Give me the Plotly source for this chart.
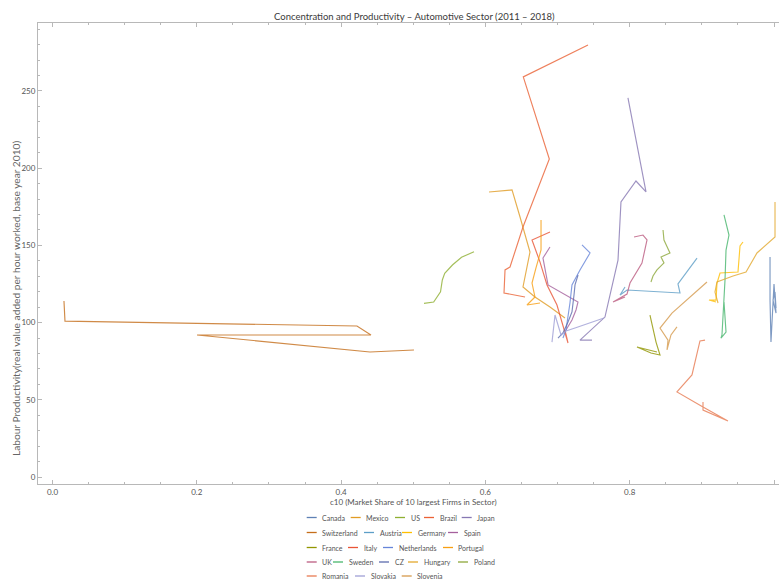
import plotly.graph_objects as go

# ---- data: c10 concentration ratio (x) and labour productivity (y), 2011-2018 ----
countries = ["Canada", "Mexico", "US", "Brazil", "Japan",
             "Switzerland", "Austria", "Germany", "Spain",
             "France", "Italy", "Netherlands", "Portugal",
             "UK", "Sweden", "CZ", "Hungary", "Poland",
             "Romania", "Slovakia", "Slovenia"]

c10_canada = [0.9945, 0.9945, 0.9958, 1.0000, 1.0028, 0.9986, 1.0014, 1.0028]
lp_canada = [142.5, 114.6, 87.4, 125.0, 106.2, 114.6, 119.8, 109.5]

c10_mexico = [0.6050, 0.6369, 0.6480, 0.6618, 0.6521, 0.6687, 0.6895, 0.7103]
lp_mexico = [184.6, 185.9, 168.4, 145.7, 123.1, 116.6, 110.1, 103.0]

c10_us = [0.5149, 0.5283, 0.5378, 0.5403, 0.5436, 0.5543, 0.5669, 0.5842]
lp_us = [112.5, 113.3, 120.0, 127.6, 131.9, 137.3, 142.3, 145.9]

c10_brazil = [0.7422, 0.6525, 0.6886, 0.6521, 0.6341, 0.6272, 0.6258, 0.6549]
lp_brazil = [279.8, 259.1, 205.9, 161.9, 136.0, 134.1, 119.2, 116.6]

c10_japan = [0.7976, 0.8226, 0.8087, 0.7879, 0.7838, 0.7657, 0.7311, 0.7477]
lp_japan = [245.5, 184.6, 191.7, 178.1, 140.5, 103.6, 88.7, 88.7]

c10_switzerland = [0.0159, 0.0173, 0.4220, 0.4414, 0.2003, 0.4400, 0.5010]
lp_switzerland = [114.0, 101.0, 97.8, 92.0, 92.0, 81.0, 82.3]

c10_austria = [0.8933, 0.8808, 0.8669, 0.8697, 0.8420, 0.7963, 0.7866, 0.7935]
lp_austria = [141.8, 134.1, 125.0, 119.2, 119.8, 121.1, 117.9, 123.1]

c10_germany = [0.9570, 0.9529, 0.9501, 0.9252, 0.9210, 0.9196, 0.9099, 0.9196]
lp_germany = [152.2, 149.6, 132.8, 132.1, 125.6, 114.6, 114.6, 113.3]

c10_spain = [0.6895, 0.6798, 0.6868, 0.7061, 0.7283, 0.7256, 0.7200, 0.7117]
lp_spain = [149.0, 141.8, 124.4, 119.2, 113.3, 108.2, 101.7, 95.2]

c10_france = [0.8281, 0.8323, 0.8365, 0.8420, 0.8295, 0.8101, 0.8254, 0.8378]
lp_france = [104.9, 95.2, 87.4, 79.0, 80.3, 84.2, 82.3, 81.0]

c10_italy = [0.6895, 0.6646, 0.6757, 0.6854, 0.6992, 0.7061, 0.7145, 0.7103]
lp_italy = [158.7, 153.5, 139.2, 124.4, 111.4, 100.4, 86.8, 95.2]

c10_netherlands = [0.7339, 0.7450, 0.7311, 0.7200, 0.7172, 0.7145, 0.7117, 0.7075]
lp_netherlands = [150.3, 145.1, 134.1, 124.4, 112.7, 103.0, 95.2, 90.0]

c10_portugal = [0.6771, 0.6771, 0.6771, 0.6701, 0.6646, 0.6687, 0.6576, 0.6757]
lp_portugal = [166.5, 156.7, 147.0, 135.4, 125.6, 116.6, 111.4, 112.7]

c10_uk = [0.8060, 0.8184, 0.8240, 0.8170, 0.8004, 0.7963, 0.7769, 0.7935]
lp_uk = [155.4, 156.7, 153.5, 138.6, 125.6, 118.5, 113.3, 116.6]

c10_sweden = [0.9307, 0.9376, 0.9335, 0.9321, 0.9279, 0.9265, 0.9335, 0.9307]
lp_sweden = [169.7, 156.7, 147.0, 127.6, 92.0, 90.0, 93.9, 113.3]

c10_cz = [0.7284, 0.7242, 0.7228, 0.7214, 0.7200, 0.7145, 0.7075, 0.7006]
lp_cz = [130.8, 124.4, 117.9, 112.7, 106.9, 100.4, 93.3, 90.0]

c10_hungary = [1.0014, 1.0014, 0.9764, 0.9612, 0.9432, 0.9210, 0.9182, 0.9224]
lp_hungary = [178.1, 155.4, 145.1, 132.8, 130.2, 126.3, 119.8, 112.7]

c10_poland = [0.8462, 0.8475, 0.8558, 0.8434, 0.8475, 0.8378, 0.8323, 0.8295]
lp_poland = [160.0, 153.5, 145.1, 142.5, 138.6, 134.1, 130.2, 126.3]

c10_romania = [0.9044, 0.8974, 0.8863, 0.8655, 0.9016, 0.9362, 0.9016, 0.9016]
lp_romania = [88.7, 88.1, 66.1, 55.1, 45.3, 36.3, 43.4, 48.6]

c10_slovakia = [0.6923, 0.6951, 0.6965, 0.7048, 0.7117, 0.7242, 0.7450, 0.7644]
lp_slovakia = [87.4, 98.4, 104.9, 92.0, 94.6, 96.5, 99.7, 103.0]

c10_slovenia = [0.9071, 0.8752, 0.8586, 0.8420, 0.8531, 0.8517, 0.8572, 0.8655]
lp_slovenia = [126.3, 113.3, 106.2, 96.5, 88.7, 82.3, 92.0, 97.2]

x_ticks = [0.0, 0.2, 0.4, 0.6, 0.8, 1.0]
y_ticks = [0, 50, 100, 150, 200, 250]

series = [
    (c10_canada, lp_canada), (c10_mexico, lp_mexico), (c10_us, lp_us),
    (c10_brazil, lp_brazil), (c10_japan, lp_japan),
    (c10_switzerland, lp_switzerland), (c10_austria, lp_austria),
    (c10_germany, lp_germany), (c10_spain, lp_spain),
    (c10_france, lp_france), (c10_italy, lp_italy),
    (c10_netherlands, lp_netherlands), (c10_portugal, lp_portugal),
    (c10_uk, lp_uk), (c10_sweden, lp_sweden), (c10_cz, lp_cz),
    (c10_hungary, lp_hungary), (c10_poland, lp_poland),
    (c10_romania, lp_romania), (c10_slovakia, lp_slovakia),
    (c10_slovenia, lp_slovenia),
]

# ---- styling ----
palette = ["#5E81B5", "#E19C24", "#8FB032", "#EB6235", "#8778B3",
           "#C56E1A", "#5D9EC7", "#FFBF00", "#A5609D",
           "#929600", "#E95536", "#6685D9", "#F89F13",
           "#BC5B80", "#47B66D", "#5B6BAE", "#E3A92E", "#8DA83A",
           "#E87B52", "#9F9FD6", "#D69A4C"]

FONT = "Lato, 'Liberation Sans', sans-serif"
TEXT = "#555555"
FRAME = "#b8b8b8"

W, H = 779, 580
ML, MR, MT, MB = 38, 0, 23, 96
PW, PH = W - ML - MR, H - MT - MB
X_PER_UNIT = 721.5          # pixels per unit of c10
Y_LO, Y_HI = -4.5, 294.0

# legend rows: per row, (country index, swatch left edge in px); row centre y in px
legend_rows = [
    (517.5, [(0, 306.7), (1, 350.7), (2, 395.0), (3, 424.0), (4, 461.7)]),
    (532.5, [(5, 306.7), (6, 364.0), (7, 402.0), (8, 448.0)]),
    (547.5, [(9, 306.7), (10, 348.0), (11, 383.0), (12, 443.0)]),
    (562.0, [(13, 306.7), (14, 333.0), (15, 379.0), (16, 408.0), (17, 458.0)]),
    (576.0, [(18, 306.7), (19, 355.0), (20, 401.7)]),
]
SWATCH = 10.0
GAP = 3.5


def px_x(px):
    return (px - ML) / PW


def px_y(py):
    return (H - MB - py) / PH


fig = go.Figure()
for name, (xs, ys), col in zip(countries, series, palette):
    fig.add_trace(go.Scatter(
        x=xs, y=ys, mode="lines", name=name, showlegend=False,
        line=dict(color=col, width=1.15), opacity=0.8,
    ))

shapes = []
annotations = []
for row_y, items in legend_rows:
    for idx, sx in items:
        shapes.append(dict(
            type="line", xref="paper", yref="paper",
            x0=px_x(sx), x1=px_x(sx + SWATCH), y0=px_y(row_y), y1=px_y(row_y),
            line=dict(color=palette[idx], width=1.3),
        ))
        annotations.append(dict(
            xref="paper", yref="paper", x=px_x(sx + SWATCH + GAP), y=px_y(row_y),
            text=countries[idx], showarrow=False, xanchor="left", yanchor="middle",
            font=dict(family=FONT, size=7, color=TEXT),
        ))

annotations.append(dict(
    xref="paper", yref="paper", x=px_x(414), y=px_y(16),
    text="Concentration and Productivity \u2013 Automotive Sector (2011 \u2013 2018)",
    showarrow=False, xanchor="center", yanchor="middle",
    font=dict(family=FONT, size=9.5, color="#3a3a3a"),
))
annotations.append(dict(
    xref="paper", yref="paper", x=px_x(413), y=px_y(502),
    text="c10 (Market Share of 10 largest Firms in Sector)",
    showarrow=False, xanchor="center", yanchor="middle",
    font=dict(family=FONT, size=8, color=TEXT),
))
annotations.append(dict(
    xref="paper", yref="paper", x=px_x(16), y=px_y(298),
    text="Labour Productivity(real value added per hour worked, base year 2010)",
    showarrow=False, xanchor="center", yanchor="middle", textangle=-90,
    font=dict(family=FONT, size=10.2, color="#666666"),
))

x_lo = -(52.5 - ML) / X_PER_UNIT
fig.update_layout(
    width=W, height=H, autosize=False,
    margin=dict(l=ML, r=MR, t=MT, b=MB, pad=0),
    paper_bgcolor="white", plot_bgcolor="white",
    font=dict(family=FONT, color=TEXT),
    shapes=shapes, annotations=annotations,
    xaxis=dict(
        range=[x_lo, x_lo + PW / X_PER_UNIT],
        tickvals=x_ticks, ticktext=[f"{v:.1f}" for v in x_ticks],
        ticks="inside", ticklen=4, tickcolor=FRAME, tickwidth=1,
        minor=dict(dtick=0.05, tick0=0, ticks="inside", ticklen=2, tickcolor=FRAME),
        showline=True, linecolor=FRAME, linewidth=1, mirror="ticks",
        showgrid=False, zeroline=False,
        tickfont=dict(family=FONT, size=8, color=TEXT),
    ),
    yaxis=dict(
        range=[Y_LO, Y_HI],
        tickvals=y_ticks, ticktext=[str(v) for v in y_ticks],
        ticks="inside", ticklen=4, tickcolor=FRAME, tickwidth=1,
        minor=dict(dtick=10, tick0=0, ticks="inside", ticklen=2, tickcolor=FRAME),
        showline=True, linecolor=FRAME, linewidth=1,
        showgrid=False, zeroline=False,
        tickfont=dict(family=FONT, size=8, color=TEXT),
    ),
)

fig.write_html("out.html")
